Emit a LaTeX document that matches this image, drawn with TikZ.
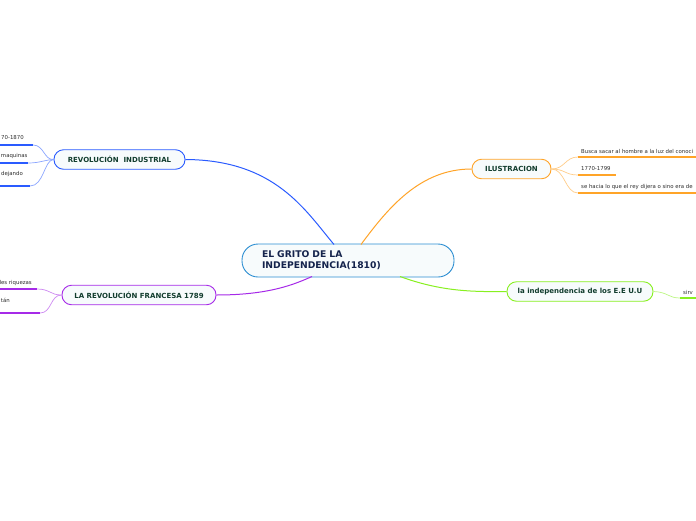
\documentclass[tikz,border=0pt]{standalone}
\usepackage{fontspec}
\setmainfont{DejaVu Sans}
\definecolor{cblue}{HTML}{2A5BFF}
\definecolor{corange}{HTML}{FFA428}
\definecolor{cpurple}{HTML}{A62AE8}
\definecolor{cgreen}{HTML}{88F020}
\definecolor{ccentral}{HTML}{2C8ED2}
\definecolor{ctext}{HTML}{123D2E}
\definecolor{cnavy}{HTML}{14234C}
\definecolor{cfill}{HTML}{F7FBFC}
\definecolor{cgray}{HTML}{2E2E2E}
\tikzset{
  topic/.style={draw, line width=0.9pt, fill=cfill, rounded corners=9.5pt, minimum height=19.5pt, inner sep=0pt, font=\fontsize{7}{8}\selectfont\bfseries, text=ctext},
  leaf/.style={font=\fontsize{5.4}{6}\selectfont, text=cgray, inner sep=0pt},
  uline/.style={line width=1.5pt},
  branch/.style={line width=1pt},
  twig/.style={line width=0.7pt}
}
\begin{document}
\begin{tikzpicture}[x=1pt,y=-1pt]
\useasboundingbox (0,0) rectangle (696,520);
\clip (0,0) rectangle (696,520);
\fill[white] (0,0) rectangle (696,520);

% central
\node[draw=ccentral, line width=0.9pt, fill=cfill, rounded corners=16pt, minimum width=212pt, minimum height=33pt, text width=172pt, inner xsep=20pt, inner ysep=0pt, align=left, font=\fontsize{9.2}{11}\selectfont\bfseries, text=cnavy] (c) at (348,260.5) {EL GRITO DE LA\\INDEPENDENCIA(1810)};

% topics
\node[topic, draw=cblue, minimum width=131pt] (ri) at (119.5,159.5) {REVOLUCIÓN\ \ INDUSTRIAL};
\node[topic, draw=corange, minimum width=79pt] (il) at (511.5,169) {ILUSTRACION};
\node[topic, draw=cpurple, minimum width=154pt] (rf) at (139,295) {LA REVOLUCIÓN FRANCESA 1789};
\node[topic, draw=cgreen, minimum width=146pt] (us) at (580,291.5) {la independencia de los E.E U.U};

% main connectors
\coordinate (cri) at (334,244.5);
\coordinate (cil) at (361,244.5);
\coordinate (crf) at (312,276.5);
\coordinate (cus) at (400,276.5);
\draw[branch, cblue] (ri.east) .. controls (275,160) and (305,210) .. (cri);
\draw[branch, corange] (cil) .. controls (388,208) and (420,169) .. (il.west);
\draw[branch, cpurple] (rf.east) .. controls (270,295) and (295,284) .. (crf);
\draw[branch, cgreen] (cus) .. controls (440,291) and (470,292) .. (us.west);

% REVOLUCION INDUSTRIAL children
\coordinate (ri1) at (33,145); \coordinate (ri1a) at (0,145);
\coordinate (ri2) at (28,163); \coordinate (ri2a) at (0,163);
\coordinate (ri3) at (30,186); \coordinate (ri3a) at (0,186);
\draw[twig, cblue!55] (ri.west) .. controls (44,160) and (44,145) .. (ri1);
\draw[twig, cblue!55] (ri.west) .. controls (44,160) and (40,163) .. (ri2);
\draw[twig, cblue!55] (ri.west) .. controls (44,160) and (44,186) .. (ri3);
\draw[uline, cblue] (ri1a) -- (ri1);
\draw[uline, cblue] (ri2a) -- (ri2);
\draw[uline, cblue] (ri3a) -- (ri3);
\node[leaf, anchor=east] (t1) at (24,138) {70-1870};
\node[leaf, anchor=west] (t2) at (0.8,156) {maquinas};
\node[leaf, anchor=east] (t3) at (23,174) {dejando};

% ILUSTRACION children
\coordinate (il1) at (578,157); \coordinate (il1b) at (696,157);
\coordinate (il2) at (578,175); \coordinate (il2b) at (616,175);
\coordinate (il3) at (578,193); \coordinate (il3b) at (696,193);
\draw[twig, corange!55] (il.east) .. controls (565,169) and (565,157) .. (il1);
\draw[twig, corange!55] (il.east) .. controls (565,169) and (565,175) .. (il2);
\draw[twig, corange!55] (il.east) .. controls (565,169) and (565,193) .. (il3);
\draw[uline, corange] (il1) -- (il1b);
\draw[uline, corange] (il2) -- (il2b);
\draw[uline, corange] (il3) -- (il3b);
\node[leaf, anchor=west] (u1) at (581,151) {Busca sacar al hombre a la luz del conoci};
\node[leaf, anchor=west] (u2) at (581,169) {1770-1799};
\node[leaf, anchor=west] (u3) at (581,187) {se hacia lo que el rey dijera o sino era de};

% REVOLUCION FRANCESA children
\coordinate (rf1) at (37,289); \coordinate (rf1a) at (0,289);
\coordinate (rf2) at (40,313); \coordinate (rf2a) at (0,313);
\draw[twig, cpurple!55] (rf.west) .. controls (50,295) and (50,289) .. (rf1);
\draw[twig, cpurple!55] (rf.west) .. controls (50,295) and (52,313) .. (rf2);
\draw[uline, cpurple] (rf1a) -- (rf1);
\draw[uline, cpurple] (rf2a) -- (rf2);
\node[leaf, anchor=east] (v1) at (32,283) {les riquezas};
\node[leaf, anchor=east] (v2) at (10,300) {tán};

% EEUU child
\coordinate (us1) at (680,298); \coordinate (us1b) at (696,298);
\draw[twig, cgreen!55] (us.east) .. controls (668,292) and (668,298) .. (us1);
\draw[uline, cgreen] (us1) -- (us1b);
\node[leaf, anchor=west] (w1) at (683,292) {sirv};
\end{tikzpicture}
\end{document}
